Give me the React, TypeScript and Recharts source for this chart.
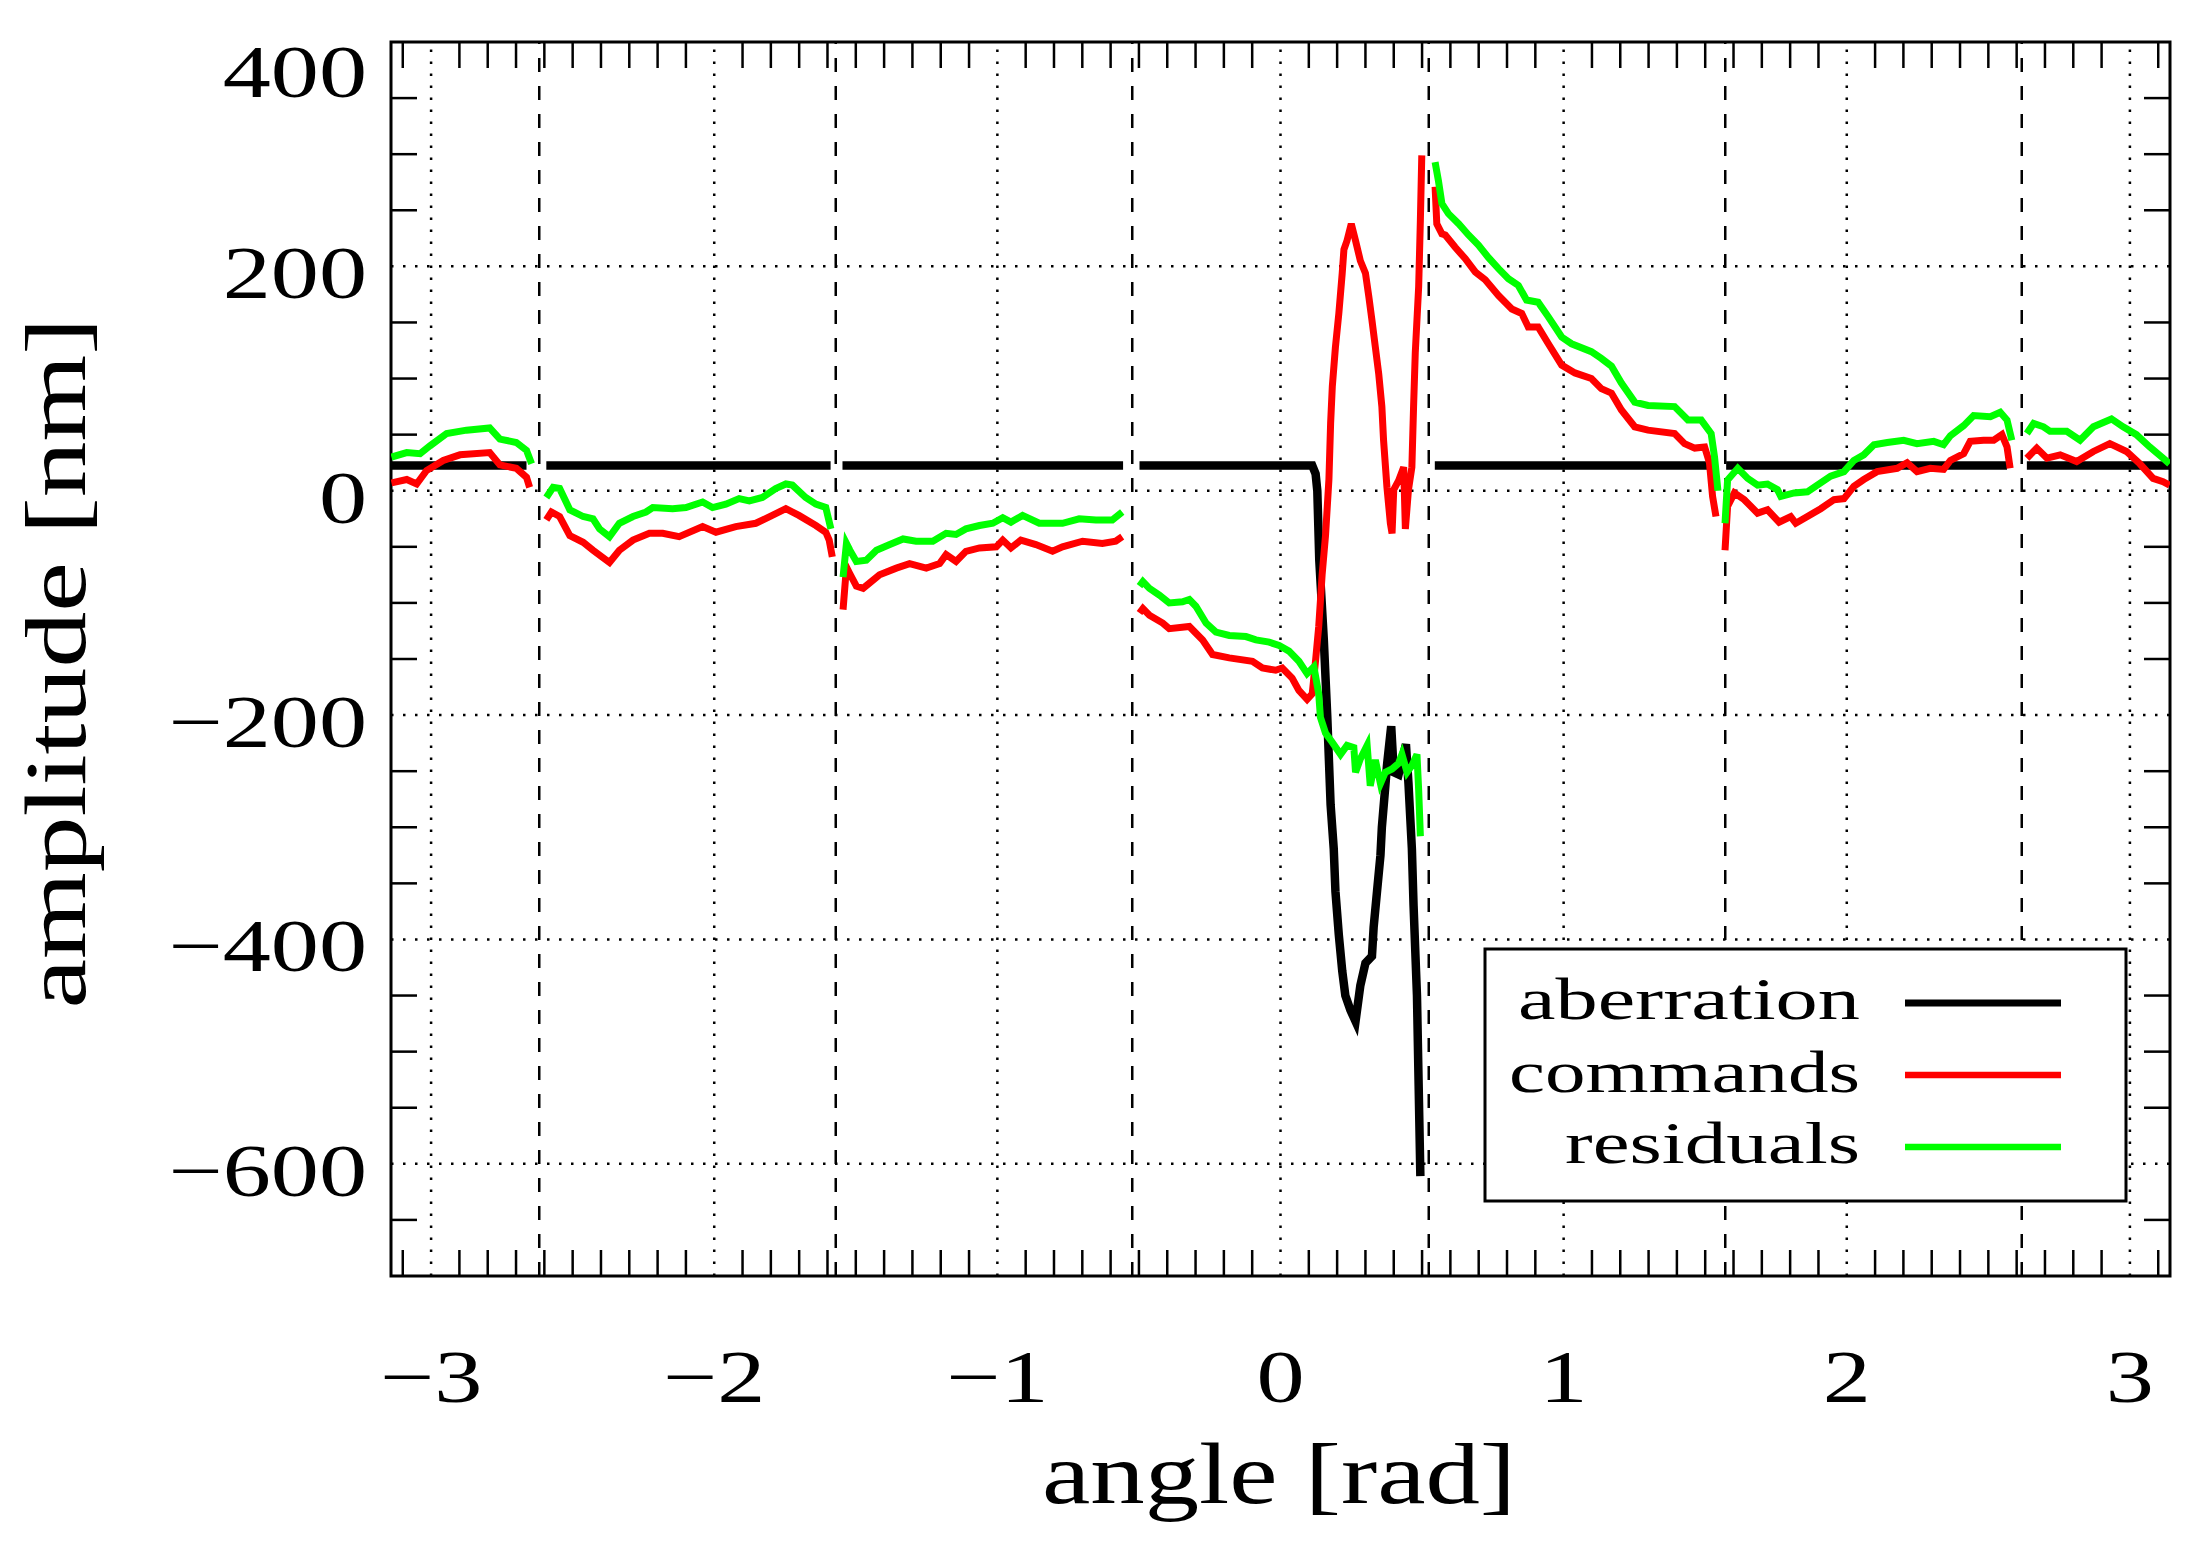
import React from "react";
import { LineChart, Line, XAxis, YAxis, ReferenceLine, ReferenceArea } from "recharts";

const W = 2202;
const H = 1554;
const PLOT = { left: 391, right: 2170, top: 42, bottom: 1276 };
const TICK_LEN = 26;
const FONT = "'Liberation Serif', 'DejaVu Serif', serif";

// axis labels / grid
const xLabels = [-3, -2, -1, 0, 1, 2, 3];
const yLabels = [-600, -400, -200, 0, 200, 400];
const yGrid = [-600, -400, -200, 0, 200];
const segmentEdges = [-2.618, -1.5708, -0.5236, 0.5236, 1.5708, 2.618];

const xTicks: number[] = [];
for (let i = -31; i <= 31; i++) xTicks.push(i / 10);
const yTicks: number[] = [];
for (let v = -650; v <= 400; v += 50) yTicks.push(v);

// aberration (black), one array per pupil segment: [angle, nm]
const aberrationSeg1 = [[-3.14, 22.5], [-2.663, 22.5]];
const aberrationSeg2 = [[-2.593, 22.5], [-1.589, 22.5]];
const aberrationSeg3 = [[-1.547, 22.5], [-0.556, 22.5]];
const aberrationSeg4 = [
  [-0.498, 22.5], [0.112, 22.5], [0.124, 15], [0.13, 0], [0.137, -62], [0.153, -133], [0.165, -200],
  [0.177, -280], [0.188, -319], [0.194, -357], [0.206, -396], [0.218, -428], [0.229, -450], [0.247, -463],
  [0.265, -473], [0.282, -441], [0.3, -421], [0.323, -415], [0.329, -389], [0.341, -357], [0.353, -325],
  [0.358, -300], [0.37, -264], [0.376, -245], [0.391, -210], [0.4, -251], [0.417, -253], [0.443, -226],
  [0.452, -261], [0.464, -319], [0.47, -370], [0.482, -450], [0.488, -531], [0.494, -611],
];
const aberrationSeg5 = [[0.545, 22.5], [1.509, 22.5]];
const aberrationSeg6 = [[1.574, 22.5], [2.566, 22.5]];
const aberrationSeg7 = [[2.636, 22.5], [3.14, 22.5]];

// commands (red)
const commandsSeg1 = [
  [-3.14, 7], [-3.086, 10], [-3.051, 6], [-3.016, 18], [-2.957, 27], [-2.898, 32], [-2.793, 34],
  [-2.757, 23], [-2.699, 20], [-2.663, 12], [-2.652, 3],
];
const commandsSeg2 = [
  [-2.593, -26], [-2.575, -19], [-2.546, -23], [-2.51, -40], [-2.463, -46], [-2.428, -53], [-2.37, -64],
  [-2.335, -53], [-2.287, -44], [-2.229, -38], [-2.182, -38], [-2.124, -41], [-2.041, -32], [-1.994, -37],
  [-1.924, -32], [-1.853, -29], [-1.795, -22], [-1.747, -16], [-1.701, -22], [-1.641, -31], [-1.606, -37],
  [-1.594, -44], [-1.583, -59],
];
const commandsSeg3 = [
  [-1.545, -106], [-1.533, -68], [-1.521, -74], [-1.498, -85], [-1.474, -87], [-1.416, -75], [-1.357, -69],
  [-1.31, -65], [-1.251, -69], [-1.204, -65], [-1.181, -57], [-1.146, -63], [-1.111, -54], [-1.063, -51],
  [-1.004, -50], [-0.981, -44], [-0.952, -51], [-0.917, -44], [-0.864, -48], [-0.805, -54], [-0.77, -50],
  [-0.699, -45], [-0.629, -47], [-0.582, -45], [-0.559, -41],
];
const commandsSeg4 = [
  [-0.498, -109], [-0.486, -105], [-0.463, -111], [-0.416, -118], [-0.393, -123], [-0.322, -121],
  [-0.275, -133], [-0.24, -146], [-0.181, -149], [-0.099, -152], [-0.064, -158], [-0.017, -160],
  [0.006, -158], [0.041, -167], [0.065, -178], [0.094, -186], [0.112, -181], [0.124, -151], [0.135, -121],
  [0.147, -75], [0.159, -40], [0.171, 10], [0.177, 60], [0.183, 93], [0.194, 128], [0.206, 158],
  [0.218, 194], [0.224, 215], [0.235, 223], [0.25, 238], [0.265, 223], [0.282, 205], [0.3, 194],
  [0.312, 173], [0.323, 152], [0.335, 128], [0.347, 104], [0.358, 75], [0.364, 45], [0.376, 3],
  [0.388, -29], [0.394, -38], [0.4, 1], [0.417, 9], [0.435, 21], [0.441, -34], [0.452, 1], [0.464, 21],
  [0.47, 75], [0.476, 123], [0.488, 182], [0.494, 241], [0.499, 299],
];
const commandsSeg5 = [
  [0.546, 271], [0.552, 238], [0.57, 229], [0.582, 228], [0.617, 217], [0.652, 207], [0.688, 195],
  [0.723, 188], [0.77, 174], [0.817, 162], [0.852, 158], [0.875, 146], [0.91, 146], [0.946, 131],
  [0.993, 112], [1.04, 105], [1.098, 100], [1.133, 91], [1.169, 87], [1.204, 72], [1.251, 57],
  [1.298, 54], [1.392, 51], [1.427, 42], [1.463, 38], [1.498, 39], [1.515, 25], [1.526, -5], [1.538, -23],
];
const commandsSeg6 = [
  [1.57, -53], [1.579, -14], [1.603, -2], [1.638, -8], [1.685, -20], [1.72, -17], [1.761, -28],
  [1.802, -23], [1.82, -29], [1.861, -23], [1.908, -16], [1.955, -8], [1.99, -7], [2.025, 4], [2.06, 10],
  [2.107, 17], [2.178, 20], [2.213, 25], [2.248, 17], [2.295, 20], [2.342, 19], [2.366, 27], [2.413, 33],
  [2.436, 44], [2.483, 45], [2.519, 45], [2.548, 50], [2.566, 39], [2.577, 20],
];
const commandsSeg7 = [
  [2.636, 29], [2.671, 38], [2.707, 29], [2.754, 32], [2.812, 26], [2.871, 35], [2.929, 42],
  [2.988, 35], [3.035, 24], [3.082, 11], [3.117, 8], [3.14, 5],
];

// residuals (green)
const residualsSeg1 = [
  [-3.14, 30], [-3.086, 34], [-3.039, 33], [-3.004, 40], [-2.945, 51], [-2.875, 54], [-2.793, 56],
  [-2.757, 46], [-2.699, 43], [-2.663, 36], [-2.645, 24],
];
const residualsSeg2 = [
  [-2.593, -6], [-2.569, 3], [-2.546, 2], [-2.51, -17], [-2.463, -23], [-2.428, -25], [-2.405, -34],
  [-2.37, -41], [-2.335, -29], [-2.287, -23], [-2.241, -19], [-2.217, -15], [-2.147, -16], [-2.1, -15],
  [-2.041, -10], [-2.006, -15], [-1.959, -12], [-1.912, -7], [-1.876, -9], [-1.83, -6], [-1.783, 2],
  [-1.747, 6], [-1.724, 5], [-1.677, -6], [-1.641, -12], [-1.606, -15], [-1.588, -34],
];
const residualsSeg3 = [
  [-1.545, -77], [-1.533, -47], [-1.521, -53], [-1.498, -63], [-1.463, -62], [-1.427, -53], [-1.38, -48],
  [-1.333, -43], [-1.287, -45], [-1.228, -45], [-1.181, -38], [-1.146, -39], [-1.111, -34], [-1.063, -31],
  [-1.016, -29], [-0.981, -24], [-0.952, -28], [-0.911, -22], [-0.852, -29], [-0.77, -29], [-0.711, -25],
  [-0.652, -26], [-0.594, -26], [-0.559, -19],
];
const residualsSeg4 = [
  [-0.498, -85], [-0.486, -81], [-0.463, -87], [-0.428, -93], [-0.393, -100], [-0.346, -99],
  [-0.322, -97], [-0.299, -103], [-0.263, -118], [-0.228, -126], [-0.181, -129], [-0.122, -130],
  [-0.087, -133], [-0.04, -135], [-0.005, -138], [0.03, -143], [0.065, -152], [0.094, -163],
  [0.118, -157], [0.135, -181], [0.141, -202], [0.159, -216], [0.182, -224], [0.212, -235],
  [0.235, -227], [0.259, -229], [0.265, -251], [0.282, -239], [0.306, -227], [0.317, -263],
  [0.335, -240], [0.353, -261], [0.37, -251], [0.394, -248], [0.417, -243], [0.429, -235],
  [0.447, -251], [0.464, -245], [0.482, -235], [0.488, -267], [0.494, -308],
];
const residualsSeg5 = [
  [0.546, 293], [0.558, 276], [0.57, 256], [0.593, 247], [0.629, 238], [0.664, 228], [0.699, 219],
  [0.734, 208], [0.77, 198], [0.805, 189], [0.84, 183], [0.869, 170], [0.91, 168], [0.946, 155],
  [0.993, 137], [1.028, 131], [1.098, 124], [1.133, 118], [1.169, 111], [1.204, 96], [1.251, 79],
  [1.298, 76], [1.392, 75], [1.439, 63], [1.486, 63], [1.521, 51], [1.533, 30], [1.545, 0],
];
const residualsSeg6 = [
  [1.57, -29], [1.579, 9.5], [1.615, 20], [1.65, 11], [1.685, 5], [1.72, 6], [1.755, 1], [1.767, -5],
  [1.814, -2], [1.861, -1], [1.896, 5], [1.943, 13], [1.99, 17], [2.025, 27], [2.06, 32], [2.096, 41],
  [2.143, 43], [2.201, 45], [2.248, 42], [2.307, 44], [2.342, 41], [2.366, 49], [2.413, 58], [2.448, 67],
  [2.507, 66], [2.542, 70], [2.566, 63], [2.583, 45],
];
const residualsSeg7 = [
  [2.636, 51], [2.66, 60], [2.695, 57], [2.718, 53], [2.777, 53], [2.824, 45], [2.871, 57],
  [2.935, 64], [2.976, 57], [3.023, 50], [3.07, 39], [3.117, 29], [3.14, 24],
];

type Pt = { x: number; y: number | null };

// segments joined with a null point so the line breaks at each gap
function joinSegments(segs: number[][][]): Pt[] {
  const out: Pt[] = [];
  segs.forEach((seg, i) => {
    if (i > 0) {
      const prev = segs[i - 1];
      out.push({ x: (prev[prev.length - 1][0] + seg[0][0]) / 2, y: null });
    }
    seg.forEach(([x, y]) => out.push({ x, y }));
  });
  return out;
}

const aberration = joinSegments([aberrationSeg1, aberrationSeg2, aberrationSeg3, aberrationSeg4, aberrationSeg5, aberrationSeg6, aberrationSeg7]);
const commands = joinSegments([commandsSeg1, commandsSeg2, commandsSeg3, commandsSeg4, commandsSeg5, commandsSeg6, commandsSeg7]);
const residuals = joinSegments([residualsSeg1, residualsSeg2, residualsSeg3, residualsSeg4, residualsSeg5, residualsSeg6, residualsSeg7]);

const fmt = (v: number) => (v < 0 ? "\u2212" + Math.abs(v) : String(v));
const near = (list: number[], v: number) => list.some((l) => Math.abs(l - v) < 1e-6);

function XTick(props: any) {
  const { x, payload } = props;
  const v = payload.value;
  if (near(xLabels, v)) {
    return (
      <text transform={`translate(${x},${PLOT.bottom + 126}) scale(1.3,1)`} textAnchor="middle"
        fontFamily={FONT} fontSize={74} fill="#000">{fmt(v)}</text>
    );
  }
  return (
    <g stroke="#000" strokeWidth={2.5}>
      <line x1={x} x2={x} y1={PLOT.bottom} y2={PLOT.bottom - TICK_LEN} />
      <line x1={x} x2={x} y1={PLOT.top} y2={PLOT.top + TICK_LEN} />
    </g>
  );
}

function YTick(props: any) {
  const { y, payload } = props;
  const v = payload.value;
  if (near(yLabels, v)) {
    const base = y + (v === 400 ? 55 : 32);
    return (
      <text transform={`translate(${PLOT.left - 24},${base}) scale(1.3,1)`} textAnchor="end"
        fontFamily={FONT} fontSize={74} fill="#000">{fmt(v)}</text>
    );
  }
  return (
    <g stroke="#000" strokeWidth={2.5}>
      <line x1={PLOT.left} x2={PLOT.left + TICK_LEN} y1={y} y2={y} />
      <line x1={PLOT.right} x2={PLOT.right - TICK_LEN} y1={y} y2={y} />
    </g>
  );
}

const legendRows = [
  { label: "aberration", color: "#000000", width: 7, x: 1518, len: 342, base: 1019, lineY: 1003 },
  { label: "commands", color: "#ff0000", width: 6.5, x: 1509, len: 351, base: 1092, lineY: 1075 },
  { label: "residuals", color: "#00ff00", width: 6.5, x: 1565, len: 295, base: 1163, lineY: 1147 },
];

export default function App() {
  return (
    <div style={{ position: "absolute", left: 0, top: 0, width: W, height: H, background: "#fff" }}>
      <LineChart width={W} height={H} margin={{ top: PLOT.top, right: W - PLOT.right, left: PLOT.left - 100, bottom: H - PLOT.bottom - 100 }}>
        <XAxis dataKey="x" type="number" domain={[-Math.PI, Math.PI]} allowDataOverflow ticks={xTicks}
          interval={0} tick={<XTick />} tickLine={false} axisLine={false} tickSize={0} height={100} />
        <YAxis type="number" domain={[-700, 400]} allowDataOverflow ticks={yTicks} interval={0}
          tick={<YTick />} tickLine={false} axisLine={false} tickSize={0} width={100} />
        {xLabels.map((v) => (
          <ReferenceLine key={"gx" + v} x={v} stroke="#000" strokeWidth={2.5} strokeDasharray="2.5 9.5" />
        ))}
        {yGrid.map((v) => (
          <ReferenceLine key={"gy" + v} y={v} stroke="#000" strokeWidth={2.5} strokeDasharray="2.5 9.5" />
        ))}
        {segmentEdges.map((v) => (
          <ReferenceLine key={"se" + v} x={v} stroke="#000" strokeWidth={2.5} strokeDasharray="14 14" />
        ))}
        <Line data={aberration} dataKey="y" type="linear" stroke="#000000" strokeWidth={8.5} dot={false}
          isAnimationActive={false} connectNulls={false} strokeLinejoin="miter" />
        <Line data={commands} dataKey="y" type="linear" stroke="#ff0000" strokeWidth={7} dot={false}
          isAnimationActive={false} connectNulls={false} strokeLinejoin="miter" />
        <Line data={residuals} dataKey="y" type="linear" stroke="#00ff00" strokeWidth={7} dot={false}
          isAnimationActive={false} connectNulls={false} strokeLinejoin="miter" />
        <ReferenceArea x1={-Math.PI} x2={Math.PI} y1={-700} y2={400} fill="none" stroke="#000" strokeWidth={3} />
      </LineChart>
      <svg width={W} height={H} style={{ position: "absolute", left: 0, top: 0, pointerEvents: "none" }}>
        <text transform="translate(85,663) rotate(-90)" textAnchor="middle" fontFamily={FONT} fontSize={86}
          textLength={691} lengthAdjust="spacingAndGlyphs" fill="#000">amplitude [nm]</text>
        <text x={1042} y={1503} fontFamily={FONT} fontSize={86} textLength={474}
          lengthAdjust="spacingAndGlyphs" fill="#000">angle [rad]</text>
        <rect x={1485} y={949} width={641} height={252} fill="#fff" stroke="#000" strokeWidth={3} />
        {legendRows.map((r) => (
          <g key={r.label}>
            <text x={r.x} y={r.base} fontFamily={FONT} fontSize={60} textLength={r.len}
              lengthAdjust="spacingAndGlyphs" fill="#000">{r.label}</text>
            <line x1={1905} x2={2061} y1={r.lineY} y2={r.lineY} stroke={r.color} strokeWidth={r.width} />
          </g>
        ))}
      </svg>
    </div>
  );
}
